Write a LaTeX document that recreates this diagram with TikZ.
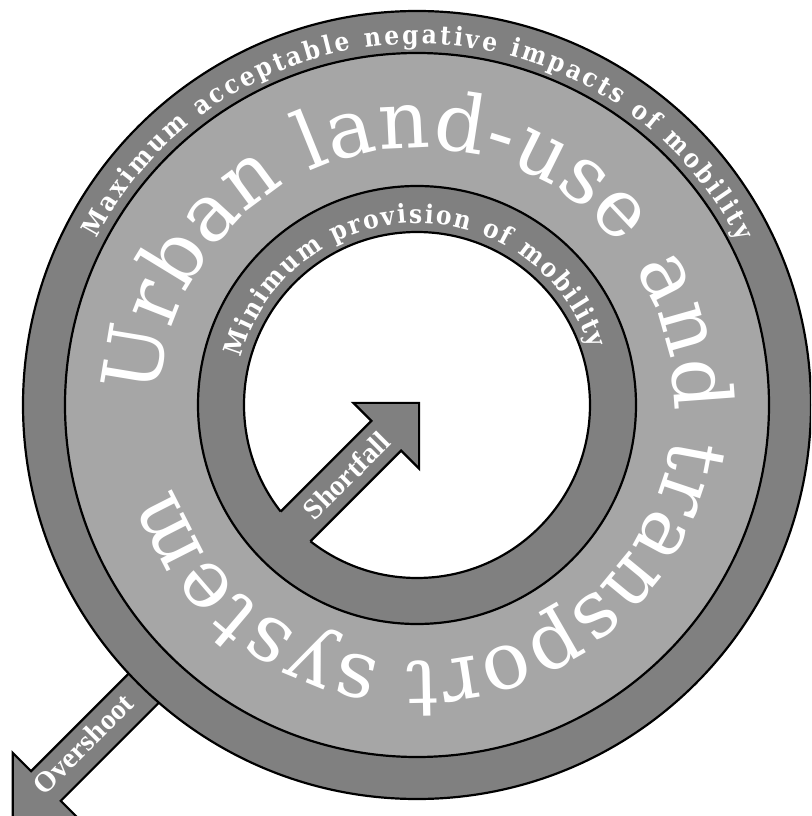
\documentclass[tikz,border=0pt]{standalone}
\usepackage{fontspec}
\usetikzlibrary{decorations.text}
\newfontfamily\ringfont{DejaVu Serif}
\newfontfamily\smallfont[FakeStretch=0.9]{DejaVu Serif}
\newfontfamily\arrowfont{Liberation Serif}
\definecolor{ringdark}{RGB}{128,128,128}
\definecolor{ringlight}{RGB}{166,166,166}
\newcommand\bigringtext{\color{white}\ringfont\fontsize{80}{80}\selectfont}
\newcommand\smallringtext{\color{white}\smallfont\bfseries\fontsize{26}{26}\selectfont}
\begin{document}
\begin{tikzpicture}[x=1pt,y=1pt,
  ring/.style={draw=black, line width=2.2pt},
  arrowbody/.style={fill=ringdark, draw=black, line width=2.2pt, line join=miter},
  arrowedge/.style={draw=black, line width=2.2pt, line join=miter},
  arrowlabel/.style={text=white, font=\arrowfont\bfseries\fontsize{29}{29}\selectfont, inner sep=0pt}]
\clip (-417,-411) rectangle (394,405);

% Overshoot arrow (behind the rings)
\begin{scope}[rotate=225]
  \draw[arrowbody] (300,-14) -- (531.8,-14) -- (531.8,-40) -- (578.8,7)
     -- (531.8,54) -- (531.8,28) -- (300,28) -- cycle;
\end{scope}

% rings
\filldraw[ring, fill=ringdark]  (0,0) circle[radius=394];
\filldraw[ring, fill=ringlight] (0,0) circle[radius=352];
\filldraw[ring, fill=ringdark]  (0,0) circle[radius=219];
\filldraw[ring, fill=white]     (0,0) circle[radius=173];

% Shortfall arrow
\begin{scope}[rotate=45]
  \fill[ringdark] (-200,-21) -- (-43.5,-21) -- (-43.5,-46.5) -- (3,0)
     -- (-43.5,46.5) -- (-43.5,21) -- (-200,21) -- cycle;
  \draw[arrowedge] (-171.7,-21) -- (-43.5,-21) -- (-43.5,-46.5) -- (3,0)
     -- (-43.5,46.5) -- (-43.5,21) -- (-171.7,21);
\end{scope}

% arrow labels
\node[arrowlabel, rotate=45] (shortfall) at (225:99.7) {Shortfall};
\node[arrowlabel, rotate=45] (overshoot) at (-334,-339) {Overshoot};

% ring texts
\path[decorate, decoration={text along path,
   text={|\smallringtext|Maximum acceptable negative impacts of mobility},
   text align={fit to path}}]
   (152.5:361) arc[start angle=152.5, end angle=27, radius=361];
\path[decorate, decoration={text along path,
   text={|\bigringtext|Urban land-use and transport system},
   text align={fit to path}}]
   (178:257) arc[start angle=178, end angle=-161.5, radius=257];
\path[decorate, decoration={text along path,
   text={|\smallringtext|Minimum provision of mobility},
   text align={fit to path}}]
   (165:182) arc[start angle=165, end angle=18, radius=182];
\end{tikzpicture}
\end{document}
